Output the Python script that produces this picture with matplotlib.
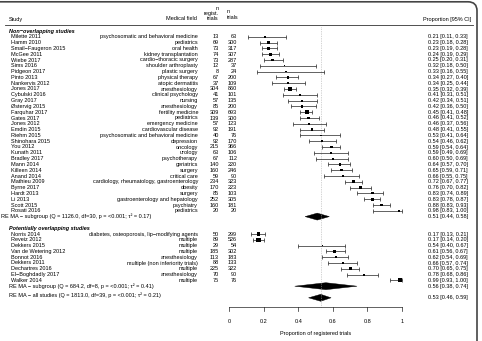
import matplotlib
matplotlib.use('Agg')
from matplotlib import pyplot as plt
from matplotlib.patches import Polygon, FancyBboxPatch
from matplotlib.transforms import IdentityTransform
import numpy as np

plt.rcParams['font.family'] = ['Liberation Sans', 'DejaVu Sans']

# non-overlapping studies
studies1 = ['Milette 2011', 'Hamm 2010', 'Smail\u2212Faugeron 2015', 'McGee 2011', 'Wiebe 2017',
            'Sims 2016', 'Pidgeon 2017', 'Pinto 2013', 'Nankervis 2012', 'Jones 2017',
            'Cybulski 2016', 'Gray 2017', '\u00d8stervig 2015', 'Farquhar 2017', 'Gates 2017',
            'Jones 2012', 'Emdin 2015', 'Riehm 2015', 'Shinohara 2015', 'You 2012',
            'Kunath 2011', 'Bradley 2017', 'Mann 2014', 'Killeen 2014', 'Anand 2014',
            'Mathieu 2009', 'Byrne 2017', 'Hardt 2013', 'Li 2013', 'Scott 2015', 'Rosati 2016']
fields1 = ['psychosomatic and behavioral medicine', 'pediatrics', 'oral health',
           'kidney transplantation', 'cardio\u2212thoracic surgery', 'shoulder arthroplasty',
           'plastic surgery', 'physical therapy', 'atopic dermatitis', 'anesthesiology',
           'clinical psychology', 'nursing', 'anesthesiology', 'fertility medicine', 'pediatrics',
           'emergency medicine', 'cardiovascular disease', 'psychosomatic and behavioral medicine',
           'depression', 'oncology', 'urology', 'psychotherapy', 'geriatrics', 'surgery',
           'critical care', 'cardiology, rheumatology, gastroenterology', 'obesity', 'surgery',
           'gastroenterology and hepatology', 'psychiatry', 'pediatrics']
nreg1 = [13, 69, 73, 74, 73, 12, 8, 67, 37, 304, 41, 57, 85, 309, 139, 57, 92, 40, 92, 215,
         63, 67, 140, 160, 59, 234, 170, 85, 252, 160, 20]
ntr1 = [63, 300, 317, 307, 287, 37, 24, 200, 109, 860, 101, 135, 200, 693, 300, 123, 191, 76,
        170, 366, 106, 112, 220, 246, 90, 323, 223, 103, 305, 181, 20]
est1 = [0.21, 0.23, 0.23, 0.24, 0.25, 0.32, 0.33, 0.34, 0.34, 0.35, 0.41, 0.42, 0.42, 0.45,
        0.46, 0.46, 0.48, 0.53, 0.54, 0.59, 0.59, 0.60, 0.64, 0.65, 0.66, 0.72, 0.76, 0.83,
        0.83, 0.88, 0.98]
lo1 = [0.11, 0.18, 0.19, 0.19, 0.20, 0.18, 0.16, 0.27, 0.25, 0.32, 0.31, 0.34, 0.36, 0.41,
       0.41, 0.37, 0.41, 0.41, 0.46, 0.54, 0.49, 0.50, 0.57, 0.59, 0.55, 0.67, 0.70, 0.74,
       0.78, 0.83, 0.83]
hi1 = [0.33, 0.28, 0.28, 0.29, 0.31, 0.50, 0.55, 0.40, 0.44, 0.39, 0.51, 0.51, 0.50, 0.48,
       0.52, 0.56, 0.55, 0.64, 0.62, 0.64, 0.69, 0.69, 0.70, 0.71, 0.75, 0.77, 0.82, 0.89,
       0.87, 0.93, 1.00]

# potentially overlapping studies
studies2 = ['Norris 2014', 'Reveiz 2012', 'Dekkers 2015', 'Van de Wetering 2012', 'Bonnot 2016',
            'Dekkers 2011', 'Dechartres 2016', 'El\u2212Boghdadly 2017', 'Walker 2014']
fields2 = ['diabetes, osteoporosis, lip\u2212modifying agents', 'multiple', 'multiple', 'multiple',
           'anesthesiology', 'multiple (non inferiority trials)', 'multiple', 'anesthesiology',
           'multiple']
nreg2 = [50, 89, 29, 185, 113, 88, 225, 70, 75]
ntr2 = [299, 526, 54, 302, 183, 133, 322, 90, 76]
est2 = [0.17, 0.17, 0.54, 0.61, 0.62, 0.66, 0.70, 0.78, 0.99]
lo2 = [0.13, 0.14, 0.40, 0.56, 0.54, 0.57, 0.65, 0.68, 0.93]
hi2 = [0.21, 0.20, 0.67, 0.67, 0.69, 0.74, 0.75, 0.86, 1.00]

# random-effects summaries
sum_labels = ['RE MA \u2212 subgroup (Q = 1126.0, df=30, p = <0.001; \u03c4\u00b2 = 0.17)',
              'RE MA \u2212 subgroup (Q = 684.2, df=8, p = <0.001; \u03c4\u00b2 = 0.41)',
              'RE MA \u2212 all studies (Q = 1813.0, df=39, p = <0.001; \u03c4\u00b2 = 0.21)']
sum_est = [0.51, 0.56, 0.53]
sum_lo = [0.44, 0.38, 0.46]
sum_hi = [0.58, 0.74, 0.59]

fs = 4.0
W, H = 482, 341
fig = plt.figure(figsize=(W / 100, H / 100), dpi=100)
ax = fig.add_axes([0, 0, 1, 1])
x0, sc = 229, 173       # pixel of 0, pixels per unit
y0, pitch = 31, 5.8     # pixel of row 0, pixels per row
ax.set_xlim(-x0 / sc, (W - x0) / sc)
ax.set_ylim((H - y0) / pitch, -y0 / pitch)
ax.axis('off')


def px(x):
    return (x - x0) / sc


def py(y):
    return (y - y0) / pitch


rows1 = np.arange(1, len(studies1) + 1)
rows2 = np.arange(35, 35 + len(studies2))
sum_rows = [32, 44, 46]

# header
ax.text(px(9), py(19), 'Study', fontsize=fs, ha='left', va='center')
ax.text(px(197), py(19), 'Medical field', fontsize=fs, ha='right', va='center')
ax.text(px(219), py(13.5), 'n\nregist.\ntrials', fontsize=fs, ha='right', va='center',
        multialignment='right', linespacing=1.1)
ax.text(px(227), py(14.5), 'n\ntrials', fontsize=fs, ha='left', va='center',
        multialignment='left', linespacing=1.1)
ax.text(px(471), py(19), 'Proportion [95% CI]', fontsize=fs, ha='right', va='center')
ax.plot([px(5), px(473)], [py(25), py(25)], color='#333333', lw=0.6)

ax.text(px(9), 0, 'Non\u2212overlapping studies', fontsize=fs, fontweight='bold',
        fontstyle='italic', ha='left', va='center')
ax.text(px(9), 34, 'Potentially overlapping studies', fontsize=fs, fontweight='bold',
        fontstyle='italic', ha='left', va='center')

# reference line at overall estimate
ax.plot([sum_est[2], sum_est[2]], [py(27), py(307)], color='#aaaaaa', lw=0.5, ls=(0, (1, 1.5)))

rows = np.concatenate([rows1, rows2])
names = studies1 + studies2
fields = fields1 + fields2
nreg = nreg1 + nreg2
ntr = ntr1 + ntr2
est = np.array(est1 + est2)
lo = np.array(lo1 + lo2)
hi = np.array(hi1 + hi2)

for r, nm, fd, a, b, e, l, h in zip(rows, names, fields, nreg, ntr, est, lo, hi):
    ax.text(px(11), r, nm, fontsize=fs, ha='left', va='center')
    ax.text(px(198), r, fd, fontsize=fs, ha='right', va='center')
    ax.text(px(219), r, str(a), fontsize=fs, ha='right', va='center')
    ax.text(px(237), r, str(b), fontsize=fs, ha='right', va='center')
    ax.text(px(468), r, f'{e:.2f} [{l:.2f}, {h:.2f}]', fontsize=fs, ha='right', va='center')

# CI bars and weighted squares
ax.errorbar(est, rows, xerr=[est - lo, hi - est], fmt='none', ecolor='#222222',
            elinewidth=0.5, capsize=1.1, capthick=0.5)
prec = 1 / (hi - lo)
side = 1.2 + (prec - prec.min()) / (prec.max() - prec.min()) * 3.4
ax.scatter(est, rows, s=(side * 0.72) ** 2, marker='s', color='black', linewidths=0, zorder=3)

# summaries
for lab, r, e, l, h, lx in zip(sum_labels, sum_rows, sum_est, sum_lo, sum_hi, [1, 9, 9]):
    ty = r - 0.45 if r == 46 else r
    ax.text(px(lx), ty, lab, fontsize=fs, ha='left', va='center')
    ax.add_patch(Polygon([[l, r], [e, r - 0.6], [h, r], [e, r + 0.6]], closed=True,
                         facecolor='black', edgecolor='black', lw=0.3))
    ax.text(px(468), r, f'{e:.2f} [{l:.2f}, {h:.2f}]', fontsize=fs, ha='right', va='center')

# x axis
ticks = np.arange(0, 1.01, 0.2)
ya = py(307)
ax.plot([0, 1], [ya, ya], color='#222222', lw=0.5)
for t in ticks:
    ax.plot([t, t], [ya, py(311)], color='#222222', lw=0.5)
    ax.text(t, py(321), f'{t:g}', fontsize=fs, ha='center', va='center')
ax.text(0.5, py(333), 'Proportion of registered trials', fontsize=fs, ha='center', va='center')

# frame (rounded corner top-right)
frame = FancyBboxPatch((-20, -20), 20 + 477, 20 + H - 1.8, boxstyle='round,pad=0,rounding_size=9',
                       transform=IdentityTransform(), facecolor='none', edgecolor='#444444',
                       lw=1.2, clip_on=False)
fig.patches.append(frame)

fig.savefig('out.png', dpi=100)
